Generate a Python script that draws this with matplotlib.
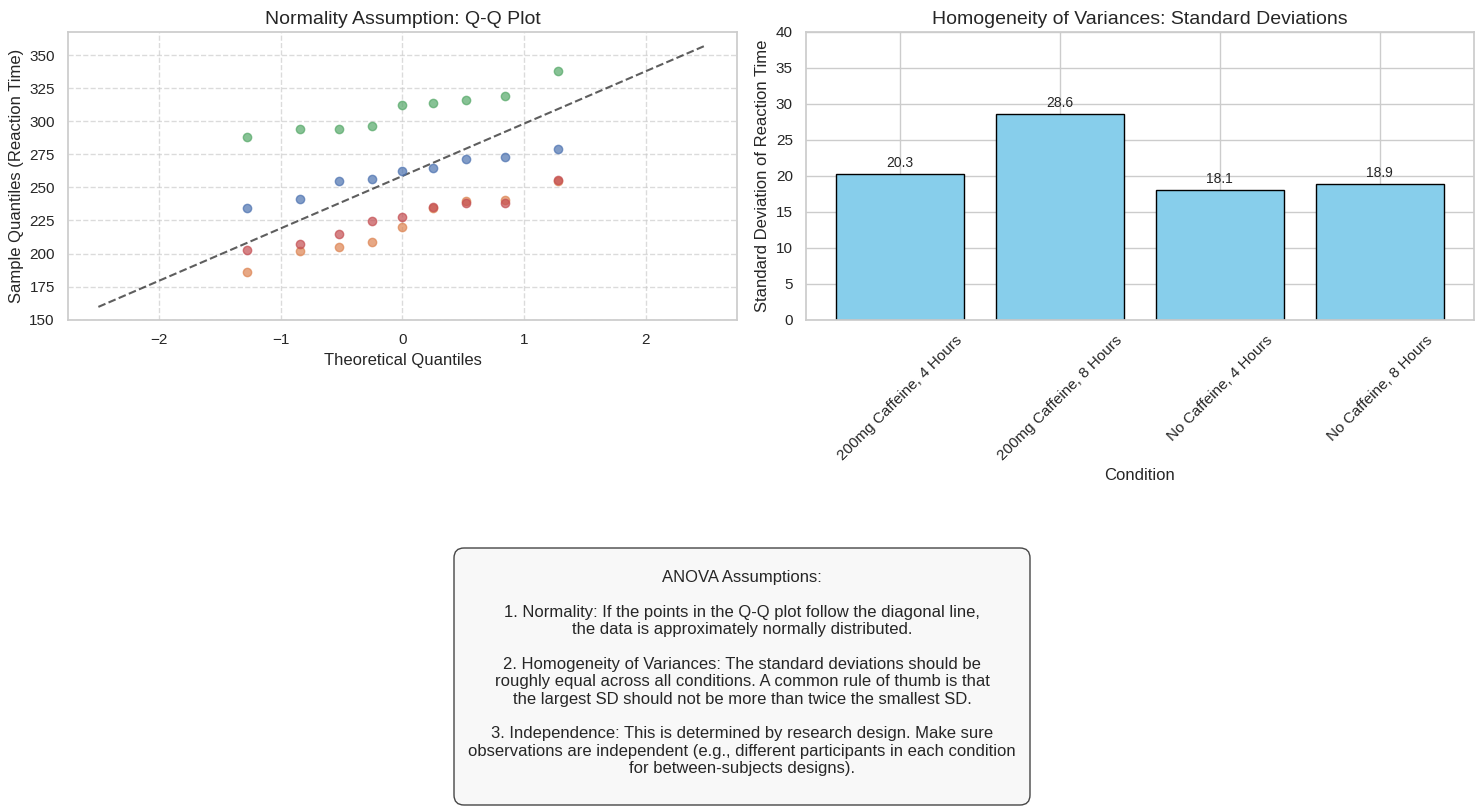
import matplotlib
matplotlib.use("Agg")
import matplotlib.pyplot as plt
from matplotlib.patches import FancyBboxPatch
import seaborn as sns

sns.set_theme(style="whitegrid")
plt.rcParams['font.family'] = ['Liberation Sans', 'DejaVu Sans']

# Q-Q plot data (theoretical quantiles shared by all groups)
theo_q = [-1.28, -0.84, -0.52, -0.25, 0.0, 0.25, 0.52, 0.84, 1.28]
q_blue = [234.2, 241.0, 254.7, 256.2, 262.3, 264.8, 271.4, 272.9, 278.9]
q_orange = [185.7, 201.6, 204.6, 208.4, 219.8, 234.2, 240.0, 240.8, 255.2]
q_green = [288.1, 294.1, 294.1, 296.4, 312.3, 313.8, 316.1, 319.2, 338.4]
q_red = [202.3, 206.9, 214.5, 224.6, 227.4, 235.5, 238.2, 238.2, 255.9]
ref_x = [-2.5, 2.5]
ref_y = [159.6, 357.8]

# standard deviation bars
conditions = ["200mg Caffeine, 4 Hours", "200mg Caffeine, 8 Hours",
              "No Caffeine, 4 Hours", "No Caffeine, 8 Hours"]
sds = [20.3, 28.6, 18.1, 18.9]

note = ("ANOVA Assumptions:\n\n"
        "1. Normality: If the points in the Q-Q plot follow the diagonal line,\n"
        "the data is approximately normally distributed.\n\n"
        "2. Homogeneity of Variances: The standard deviations should be\n"
        "roughly equal across all conditions. A common rule of thumb is that\n"
        "the largest SD should not be more than twice the smallest SD.\n\n"
        "3. Independence: This is determined by research design. Make sure\n"
        "observations are independent (e.g., different participants in each condition\n"
        "for between-subjects designs).")

fig = plt.figure(figsize=(14.84, 8.08), dpi=100)
ax1 = fig.add_axes([0.0458, 0.604, 0.4508, 0.3564])
ax2 = fig.add_axes([0.5431, 0.604, 0.4501, 0.3564])

pal = sns.color_palette("deep")
for ys, c in zip([q_blue, q_orange, q_green, q_red], pal[:4]):
    ax1.scatter(theo_q, ys, color=c, alpha=0.7, s=36, zorder=3)
ax1.plot(ref_x, ref_y, 'k--', alpha=0.7, lw=1.5)
ax1.set_title("Normality Assumption: Q-Q Plot", fontsize=14)
ax1.set_xlabel("Theoretical Quantiles")
ax1.set_ylabel("Sample Quantiles (Reaction Time)")
ax1.grid(True, linestyle='--', alpha=0.7)

bars = ax2.bar(conditions, sds, color='skyblue', edgecolor='black')
for b, v in zip(bars, sds):
    ax2.text(b.get_x() + b.get_width() / 2, v + 0.5, f"{v:.1f}",
             ha='center', va='bottom', fontsize=10)
ax2.set_ylim(0, 40)
ax2.set_title("Homogeneity of Variances: Standard Deviations", fontsize=14)
ax2.set_xlabel("Condition")
ax2.set_ylabel("Standard Deviation of Reaction Time")
plt.setp(ax2.get_xticklabels(), rotation=45)

# note box (drawn in pixel coords so the padding matches)
box = FancyBboxPatch((454, 3), 576, 257, boxstyle='round,pad=0,rounding_size=10',
                     transform=None, facecolor='#f8f8f8', edgecolor='#333333',
                     alpha=0.9, lw=1.0)
fig.patches.append(box)
fig.text(0.5, 0.167, note, ha='center', va='center', fontsize=12)

fig.savefig("out.png", dpi=100)
